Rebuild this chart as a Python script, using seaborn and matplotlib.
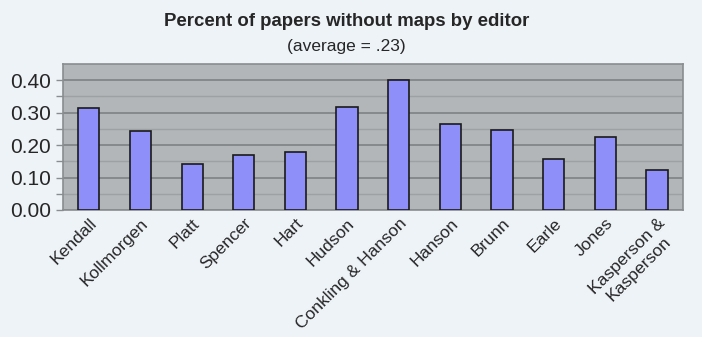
import matplotlib
matplotlib.use("Agg")
import matplotlib.pyplot as plt
import numpy as np
import pandas as pd
import seaborn as sns

editors = ["Kendall", "Kollmorgen", "Platt", "Spencer", "Hart", "Hudson",
           "Conkling & Hanson", "Hanson", "Brunn", "Earle", "Jones",
           "Kasperson &\nKasperson"]
pct_no_maps = [0.313, 0.245, 0.141, 0.169, 0.179, 0.318,
               0.400, 0.266, 0.248, 0.156, 0.225, 0.124]

df = pd.DataFrame({"editor": editors, "pct": pct_no_maps})

sns.set_style("white")
plt.rcParams["font.family"] = ["Liberation Sans", "DejaVu Sans"]

fig = plt.figure(figsize=(7.02, 3.37), dpi=100, facecolor="#eef3f8")
ax = fig.add_axes([0.0897, 0.377, 0.883, 0.433])
ax.set_facecolor("#b3b6b8")

sns.barplot(data=df, x="editor", y="pct", color="#8f8ffa", width=0.41,
            edgecolor="#1a1a1a", linewidth=1.2, saturation=1, ax=ax, zorder=3)

ax.set_ylim(0, 0.45)
ax.set_xlim(-0.5, len(editors) - 0.5)
ax.set_yticks(np.arange(0, 0.41, 0.1))
ax.set_yticklabels([f"{v:.2f}" for v in np.arange(0, 0.41, 0.1)], fontsize=15)
ax.set_yticks(np.arange(0.05, 0.45, 0.1), minor=True)
ax.grid(axis="y", which="major", color="#7f8285", linewidth=1.2, zorder=1)
ax.grid(axis="y", which="minor", color="#9ea1a4", linewidth=1.0, zorder=1)
ax.set_axisbelow(True)

ax.set_xticks(np.arange(len(editors)))
ax.set_xticklabels(editors, rotation=45, ha="right", rotation_mode="anchor",
                   fontsize=12.6, multialignment="center")
ax.tick_params(axis="x", which="major", length=0, pad=4)
ax.set_xticks(np.arange(-0.5, len(editors)), minor=True)
ax.tick_params(axis="x", which="minor", length=5, color="#8a8d90", width=1)
ax.tick_params(axis="y", which="both", length=5, color="#8a8d90", width=1, left=True)
ax.set_xlabel("")
ax.set_ylabel("")

for side in ["left", "bottom", "top", "right"]:
    ax.spines[side].set_visible(True)
    ax.spines[side].set_color("#8a8d90")
    ax.spines[side].set_linewidth(1.2)

fig.text(0.494, 0.935, "Percent of papers without maps by editor", ha="center",
         va="center", fontsize=13.4, fontweight="bold")
fig.text(0.494, 0.862, "(average = .23)", ha="center", va="center", fontsize=12.5)

fig.savefig("out.png", dpi=100, facecolor=fig.get_facecolor())
